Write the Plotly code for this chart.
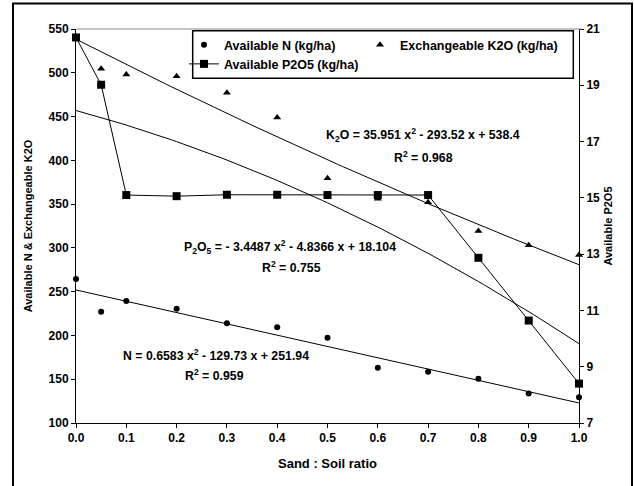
import numpy as np
import plotly.graph_objects as go

# ---- data ----
ratio = [0.0, 0.05, 0.1, 0.2, 0.3, 0.4, 0.5, 0.6, 0.7, 0.8, 0.9, 1.0]
avail_n = [264.6, 227, 239.2, 230.4, 214, 209.5, 197.3, 163, 158.4, 150.4, 133.6, 129.5]
exch_k2o = [540, 504.5, 498, 496, 477.3, 448.8, 379.6, 356, 352.2, 319.4, 303, 292]
avail_p2o5 = [20.7, 19.02, 15.10, 15.06, 15.11, 15.11, 15.10, 15.10, 15.10, 12.87, 10.64, 8.4]

# polynomial trendline coefficients (a x^2 + b x + c)
coef_n = [0.6583, -129.73, 251.94]
coef_k2o = [35.951, -293.52, 538.4]
coef_p2o5 = [-3.4487, -4.8366, 18.104]

x_tick_vals = [0.0, 0.1, 0.2, 0.3, 0.4, 0.5, 0.6, 0.7, 0.8, 0.9, 1.0]
y1_ticks = [100, 150, 200, 250, 300, 350, 400, 450, 500, 550]
y2_ticks = [7, 9, 11, 13, 15, 17, 19, 21]

FONT = "Liberation Sans"
xfit = np.linspace(0, 1, 101)

fig = go.Figure()
fig.add_trace(go.Scatter(x=xfit, y=np.polyval(coef_n, xfit), mode="lines", showlegend=False,
                         line=dict(color="black", width=1), hoverinfo="skip"))
fig.add_trace(go.Scatter(x=xfit, y=np.polyval(coef_k2o, xfit), mode="lines", showlegend=False,
                         line=dict(color="black", width=1), hoverinfo="skip"))
fig.add_trace(go.Scatter(x=xfit, y=np.polyval(coef_p2o5, xfit), mode="lines", showlegend=False,
                         yaxis="y2", line=dict(color="black", width=1), hoverinfo="skip"))
fig.add_trace(go.Scatter(x=ratio, y=avail_n, mode="markers", name="<b>Available N (kg/ha)</b>",
                         cliponaxis=False, legend="legend",
                         marker=dict(symbol="circle", size=6, color="black")))
fig.add_trace(go.Scatter(x=ratio, y=exch_k2o, mode="markers", name="<b>Exchangeable K2O (kg/ha)</b>",
                         cliponaxis=False, legend="legend2",
                         marker=dict(symbol="triangle-up", size=7, color="black")))
fig.add_trace(go.Scatter(x=ratio, y=avail_p2o5, mode="lines+markers", name="<b>Available P2O5 (kg/ha)</b>",
                         yaxis="y2", line=dict(color="black", width=1), cliponaxis=False, legend="legend",
                         marker=dict(symbol="square", size=8, color="black")))

ann_font = dict(family=FONT, size=12.3, color="black")


def px(xp):
    return (xp - 76) / 503


def py(yp):
    return (423 - yp) / 394


annotations = [
    dict(x=px(423), y=py(135), text="<b>K<sub>2</sub>O = 35.951 x<sup>2</sup> - 293.52 x + 538.4</b>"),
    dict(x=px(423), y=py(157), text="<b>R<sup>2</sup> = 0.968</b>"),
    dict(x=px(290), y=py(247), text="<b>P<sub>2</sub>O<sub>5</sub> = - 3.4487 x<sup>2</sup> - 4.8366 x + 18.104</b>"),
    dict(x=px(291), y=py(267), text="<b>R<sup>2</sup> = 0.755</b>"),
    dict(x=px(216), y=py(355), text="<b>N = 0.6583 x<sup>2</sup> - 129.73 x + 251.94</b>"),
    dict(x=px(214), y=py(375), text="<b>R<sup>2</sup> = 0.959</b>"),
]
for a in annotations:
    a.update(xref="paper", yref="paper", showarrow=False, font=ann_font,
             xanchor="center", yanchor="middle")

shapes = [
    # outer chart border
    dict(type="rect", xref="paper", yref="paper",
         x0=px(13), x1=px(632), y0=py(487), y1=py(3.5),
         line=dict(color="black", width=2), fillcolor="rgba(0,0,0,0)", layer="above"),
    # top plot edge
    dict(type="line", xref="paper", yref="paper", x0=0, x1=px(582), y0=1, y1=1,
         line=dict(color="#888888", width=1)),
    # legend frame
    dict(type="rect", xref="paper", yref="paper",
         x0=px(192.7), x1=px(573.3), y0=py(78.3), y1=py(30.7),
         line=dict(color="black", width=1.5), fillcolor="white", layer="below"),
]

tickfont = dict(family=FONT, size=12, color="black", weight="bold")
titlefont = dict(family=FONT, size=11, color="black")
legfont = dict(family=FONT, size=12.5, color="black")

fig.update_layout(
    width=634, height=486,
    margin=dict(l=76, r=55, t=29, b=63),
    paper_bgcolor="white", plot_bgcolor="white",
    font=dict(family=FONT, color="black"),
    showlegend=True,
    legend=dict(orientation="v", x=px(184), y=py(30), xanchor="left", yanchor="top",
                bgcolor="rgba(0,0,0,0)", borderwidth=0, font=legfont, tracegroupgap=0),
    legend2=dict(orientation="v", x=px(360), y=py(30), xanchor="left", yanchor="top",
                 bgcolor="rgba(0,0,0,0)", borderwidth=0, font=legfont),
    xaxis=dict(range=[0, 1], tickvals=x_tick_vals, tickformat=".1f", showgrid=False, zeroline=False,
               showline=True, linecolor="black", linewidth=1, ticks="outside", ticklen=4,
               tickcolor="black", tickfont=tickfont,
               title=dict(text="<b>Sand : Soil ratio</b>", font=dict(family=FONT, size=13, color="black"),
                          standoff=14)),
    yaxis=dict(range=[100, 550], tickvals=y1_ticks, showgrid=False, zeroline=False,
               showline=True, linecolor="black", linewidth=1, ticks="outside", ticklen=4,
               tickcolor="black", tickfont=tickfont,
               title=dict(text="<b>Available N & Exchangeable K2O</b>", font=titlefont, standoff=13)),
    yaxis2=dict(range=[7, 21], tickvals=y2_ticks, overlaying="y", side="right", showgrid=False,
                zeroline=False, showline=True, linecolor="black", linewidth=1, ticks="outside",
                ticklen=4, tickcolor="black", tickfont=tickfont,
                title=dict(text="<b>Available P2O5</b>", font=titlefont, standoff=5)),
    annotations=annotations,
    shapes=shapes,
)

fig.write_html("out.html", config={"displayModeBar": False},
               post_script="document.body.style.margin='0';")
